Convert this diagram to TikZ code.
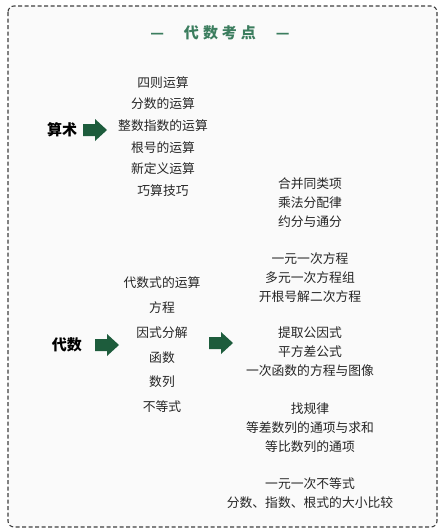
\documentclass[tikz,border=0pt]{standalone}
\usepackage{fontspec}
\setmainfont{Noto Sans CJK SC}
\usepackage{tikz}
\usetikzlibrary{positioning}
\usepackage{xcolor}
\definecolor{titlegreen}{HTML}{3B7D5E}
\definecolor{arrowgreen}{HTML}{1D5C3C}
\definecolor{itemgray}{HTML}{262626}

\tikzset{
  topic/.style={font=\fontsize{15}{17}\selectfont\bfseries, text=black},
  item/.style={font=\fontsize{12.8}{14}\selectfont, text=itemgray, inner sep=0pt},
  goarrow/.pic={
    \fill[arrowgreen] (-12,-6) -- (0,-6) -- (0,-11) -- (12,0) -- (0,11) -- (0,6) -- (-12,6) -- cycle;
  },
}

\begin{document}
\begin{tikzpicture}[x=1pt, y=-1pt]
    \useasboundingbox (0,0) rectangle (445,531);
    \fill[white] (0,0) rectangle (445,531);

    % frame
    \draw[black!75, line width=1.1pt, dash pattern=on 4pt off 2.5pt, rounded corners=6pt, fill=black!2]
        (8,6) rectangle (437,527);
    \node[font=\fontsize{15}{17}\selectfont\bfseries, text=titlegreen] (title) at (220,33)
        {—\hspace{20pt}代\hspace{4pt}数\hspace{4pt}考\hspace{4pt}点\hspace{20pt}—};

    % Arithmetic
    \node[topic] (suanshu) at (62,130) {算术};
    \coordinate (arrA) at (95,130);
    \pic at (arrA) {goarrow};
    \node[item] (a1) at (163,83) {四则运算};
    \node[item] (a2) at (163,104) {分数的运算};
    \node[item] (a3) at (163,126) {整数指数的运算};
    \node[item] (a4) at (163,148) {根号的运算};
    \node[item] (a5) at (163,169) {新定义运算};
    \node[item] (a6) at (163,191) {巧算技巧};

    % Algebra
    \node[topic] (daishu) at (67,345) {代数};
    \coordinate (arrB) at (107,345);
    \pic at (arrB) {goarrow};
    \node[item] (b1) at (162,283) {代数式的运算};
    \node[item] (b2) at (162,308) {方程};
    \node[item] (b3) at (162,333) {因式分解};
    \node[item] (b4) at (162,358) {函数};
    \node[item] (b5) at (162,382) {数列};
    \node[item] (b6) at (162,407) {不等式};
    \coordinate (arrC) at (221,343);
    \pic at (arrC) {goarrow};

    % details
    \node[item] (c1) at (310,184) {合并同类项};
    \node[item] (c2) at (310,203) {乘法分配律};
    \node[item] (c3) at (310,222) {约分与通分};
    \node[item] (d1) at (310,259) {一元一次方程};
    \node[item] (d2) at (310,278) {多元一次方程组};
    \node[item] (d3) at (310,297) {开根号解二次方程};
    \node[item] (e1) at (310,333) {提取公因式};
    \node[item] (e2) at (310,352) {平方差公式};
    \node[item] (e3) at (310,371) {一次函数的方程与图像};
    \node[item] (f1) at (310,409) {找规律};
    \node[item] (f2) at (310,428) {等差数列的通项与求和};
    \node[item] (f3) at (310,447) {等比数列的通项};
    \node[item] (g1) at (310,484) {一元一次不等式};
    \node[item] (g2) at (310,503) {分数、指数、根式的大小比较};
\end{tikzpicture}
\end{document}
